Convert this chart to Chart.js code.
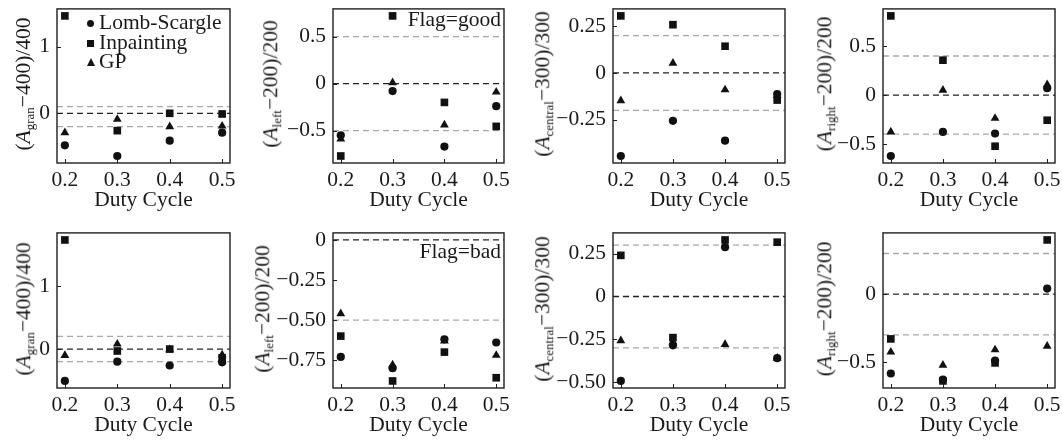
<!DOCTYPE html>
<html>
<head>
<meta charset="utf-8">
<script src="https://cdn.jsdelivr.net/npm/chart.js@4.4.1/dist/chart.umd.min.js"></script>
<style>
  html, body { margin: 0; padding: 0; background: #fff; overflow: hidden; }
  body { width: 1062px; height: 441px; position: relative; font-family: 'Liberation Serif', 'DejaVu Serif', serif; color: #1a1a1a; }
  canvas { position: absolute; }
  .ytitle { position: absolute; font-size: 21.5px; white-space: nowrap; transform: translate(-50%, -50%) rotate(-90deg); line-height: 1; }
  .ytitle sub { font-size: 13px; vertical-align: -4px; line-height: 0; }
  .ytitle i { font-style: italic; }
  .note { position: absolute; font-size: 21.5px; white-space: nowrap; line-height: 1; transform: translate(-100%, -50%); }
  .leg { position: absolute; font-size: 21.5px; white-space: nowrap; line-height: 1; transform: translateY(-50%); }
  .mk { position: absolute; background: #111; }
</style>
</head>
<body>
<script>
// ---------------- data ----------------
const dutyCycle = [0.2, 0.3, 0.4, 0.5];
const xTicks = [0.2, 0.3, 0.4, 0.5];
const xTickLabels = ['0.2', '0.3', '0.4', '0.5'];
const seriesNames = ['Lomb-Scargle', 'Inpainting', 'GP'];

// Flag = good (top row)
const granGoodLS  = [-0.48, -0.64, -0.41, -0.29];
const granGoodInp = [1.46, -0.26, 0.00, -0.01];
const granGoodGP  = [-0.29, -0.09, -0.20, -0.19];
const granGoodGray = [0.1, -0.2];
const granGoodYTicks = [0, 1];
const granGoodYLabels = ['0', '1'];

const leftGoodLS  = [-0.55, -0.08, -0.67, -0.24];
const leftGoodInp = [-0.77, 0.72, -0.20, -0.455];
const leftGoodGP  = [-0.59, 0.01, -0.44, -0.09];
const leftGoodGray = [0.5, -0.5];
const leftGoodYTicks = [-0.5, 0, 0.5];
const leftGoodYLabels = ['\u22120.5', '0', '0.5'];

const centralGoodLS  = [-0.444, -0.256, -0.362, -0.113];
const centralGoodInp = [0.305, 0.258, 0.143, -0.145];
const centralGoodGP  = [-0.148, 0.052, -0.09, -0.12];
const centralGoodGray = [0.2, -0.2];
const centralGoodYTicks = [-0.25, 0, 0.25];
const centralGoodYLabels = ['\u22120.25', '0', '0.25'];

const rightGoodLS  = [-0.623, -0.377, -0.393, 0.07];
const rightGoodInp = [0.81, 0.357, -0.523, -0.257];
const rightGoodGP  = [-0.377, 0.05, -0.237, 0.107];
const rightGoodGray = [0.4, -0.4];
const rightGoodYTicks = [-0.5, 0, 0.5];
const rightGoodYLabels = ['\u22120.5', '0', '0.5'];

// Flag = bad (bottom row)
const granBadLS  = [-0.505, -0.20, -0.26, -0.21];
const granBadInp = [1.73, -0.03, 0.00, -0.14];
const granBadGP  = [-0.10, 0.08, -0.01, -0.09];
const granBadGray = [0.2, -0.2];
const granBadYTicks = [0, 1];
const granBadYLabels = ['0', '1'];

const leftBadLS  = [-0.73, -0.80, -0.62, -0.64];
const leftBadInp = [-0.60, -0.88, -0.70, -0.86];
const leftBadGP  = [-0.46, -0.78, -0.63, -0.72];
const leftBadGray = [-0.5];
const leftBadYTicks = [-0.75, -0.5, -0.25, 0];
const leftBadYLabels = ['\u22120.75', '\u22120.50', '\u22120.25', '0'];

const centralBadLS  = [-0.493, -0.285, 0.288, -0.36];
const centralBadInp = [0.24, -0.24, 0.33, 0.317];
const centralBadGP  = [-0.258, -0.265, -0.28, -0.36];
const centralBadGray = [0.3, -0.3];
const centralBadYTicks = [-0.5, -0.25, 0, 0.25];
const centralBadYLabels = ['\u22120.50', '\u22120.25', '0', '0.25'];

const rightBadLS  = [-0.585, -0.63, -0.49, 0.041];
const rightBadInp = [-0.33, -0.64, -0.507, 0.40];
const rightBadGP  = [-0.427, -0.524, -0.41, -0.383];
const rightBadGray = [0.3, -0.3];
const rightBadYTicks = [-0.5, 0];
const rightBadYLabels = ['\u22120.5', '0'];

const zeroLine = [0];

// ---------------- layout ----------------
const colLeft = [57, 333, 613, 883];
const colWidth = [173, 171, 172, 172];
const rowTop = [5, 229];
const rowHeight = [158, 159];
const titleX = [24, 271, 543, 825];
const titleXBottom = [24, 263, 543, 825];
const YW = 60, PR = 14, XH = 52, PT = 16;
const X_MIN = 0.185, X_MAX = 0.515;
const FONT = { family: "'Liberation Serif', 'DejaVu Serif', serif", size: 21.5 };
const INK = '#111';

const panels = [
  { row: 0, col: 0, ls: granGoodLS, inp: granGoodInp, gp: granGoodGP, gray: granGoodGray, yt: granGoodYTicks, yl: granGoodYLabels, sub: 'gran', num: '400', den: '400' },
  { row: 0, col: 1, ls: leftGoodLS, inp: leftGoodInp, gp: leftGoodGP, gray: leftGoodGray, yt: leftGoodYTicks, yl: leftGoodYLabels, sub: 'left', num: '200', den: '200' },
  { row: 0, col: 2, ls: centralGoodLS, inp: centralGoodInp, gp: centralGoodGP, gray: centralGoodGray, yt: centralGoodYTicks, yl: centralGoodYLabels, sub: 'central', num: '300', den: '300' },
  { row: 0, col: 3, ls: rightGoodLS, inp: rightGoodInp, gp: rightGoodGP, gray: rightGoodGray, yt: rightGoodYTicks, yl: rightGoodYLabels, sub: 'right', num: '200', den: '200' },
  { row: 1, col: 0, ls: granBadLS, inp: granBadInp, gp: granBadGP, gray: granBadGray, yt: granBadYTicks, yl: granBadYLabels, sub: 'gran', num: '400', den: '400' },
  { row: 1, col: 1, ls: leftBadLS, inp: leftBadInp, gp: leftBadGP, gray: leftBadGray, yt: leftBadYTicks, yl: leftBadYLabels, sub: 'left', num: '200', den: '200' },
  { row: 1, col: 2, ls: centralBadLS, inp: centralBadInp, gp: centralBadGP, gray: centralBadGray, yt: centralBadYTicks, yl: centralBadYLabels, sub: 'central', num: '300', den: '300' },
  { row: 1, col: 3, ls: rightBadLS, inp: rightBadInp, gp: rightBadGP, gray: rightBadGray, yt: rightBadYTicks, yl: rightBadYLabels, sub: 'right', num: '200', den: '200' },
];

// matplotlib-like autoscale: data (and horizontal reference lines) plus 5% margin
function autoRange(vals) {
  const lo = Math.min(...vals), hi = Math.max(...vals);
  const m = (hi - lo) * 0.05;
  return [lo - m, hi + m];
}

const framePlugin = {
  id: 'frame',
  afterDatasetsDraw(chart) {
    const { ctx, chartArea: a, scales: { x, y } } = chart;
    ctx.save();
    ctx.strokeStyle = '#1e1e1e';
    ctx.lineWidth = 1.4;
    ctx.strokeRect(a.left, a.top, a.right - a.left, a.bottom - a.top);
    ctx.beginPath();
    x.ticks.forEach(t => { const px = Math.round(x.getPixelForValue(t.value)) + 0.5; ctx.moveTo(px, a.bottom); ctx.lineTo(px, a.bottom - 4); });
    y.ticks.forEach(t => { const py = Math.round(y.getPixelForValue(t.value)) + 0.5; ctx.moveTo(a.left, py); ctx.lineTo(a.left + 4, py); });
    ctx.lineWidth = 1;
    ctx.stroke();
    ctx.restore();
  }
};

function hline(v, color) {
  return {
    type: 'line', data: [{ x: X_MIN, y: v }, { x: X_MAX, y: v }],
    borderColor: color, borderWidth: 1.3, borderDash: [6, 4], pointRadius: 0, order: 5, clip: false
  };
}
function pts(arr) { return dutyCycle.map((d, i) => ({ x: d, y: arr[i] })); }

panels.forEach(p => {
  const plotL = colLeft[p.col], plotW = colWidth[p.col];
  const plotT = rowTop[p.row], plotH = rowHeight[p.row];
  const cv = document.createElement('canvas');
  const W = YW + plotW + PR, H = PT + plotH + XH;
  cv.width = W; cv.height = H;
  cv.style.left = (plotL - YW) + 'px';
  cv.style.top = (plotT - PT) + 'px';
  cv.style.width = W + 'px'; cv.style.height = H + 'px';
  document.body.appendChild(cv);

  const [yMin, yMax] = autoRange([...p.ls, ...p.inp, ...p.gp, ...zeroLine, ...p.gray]);

  const datasets = [
    { type: 'scatter', label: seriesNames[1], data: pts(p.inp), pointStyle: 'rect', pointRadius: 5.4, backgroundColor: INK, borderColor: INK, borderWidth: 0, order: 0 },
    { type: 'scatter', label: seriesNames[0], data: pts(p.ls), pointStyle: 'circle', pointRadius: 4.1, backgroundColor: INK, borderColor: INK, borderWidth: 0, order: 1 },
    { type: 'scatter', label: seriesNames[2], data: pts(p.gp), pointStyle: 'triangle', pointRadius: 5.1, backgroundColor: INK, borderColor: INK, borderWidth: 0, order: 2 },
    hline(zeroLine[0], '#222'),
    ...p.gray.map(g => hline(g, '#a8a8a8')),
  ];

  new Chart(cv, {
    data: { datasets },
    plugins: [framePlugin],
    options: {
      responsive: false, animation: false, devicePixelRatio: 1,
      layout: { padding: { left: 0, top: PT, right: PR, bottom: 0 } },
      plugins: { legend: { display: false }, tooltip: { enabled: false } },
      scales: {
        x: {
          type: 'linear', min: X_MIN, max: X_MAX,
          afterBuildTicks: s => { s.ticks = xTicks.map(v => ({ value: v })); },
          afterFit: s => { s.height = XH; },
          ticks: { callback: (v, i) => xTickLabels[i], font: FONT, color: '#1a1a1a', padding: 4, maxRotation: 0, minRotation: 0, autoSkip: false },
          grid: { display: false, drawTicks: false },
          border: { display: false },
          title: { display: true, text: 'Duty Cycle', font: FONT, color: '#1a1a1a', padding: { top: 0, bottom: 2 } }
        },
        y: {
          type: 'linear', min: yMin, max: yMax,
          afterBuildTicks: s => { s.ticks = p.yt.map(v => ({ value: v })); },
          afterFit: s => { s.width = YW; },
          ticks: { callback: (v, i) => p.yl[i], font: FONT, color: '#1a1a1a', padding: 7, autoSkip: false },
          grid: { display: false, drawTicks: false },
          border: { display: false }
        }
      }
    }
  });

  // y-axis title (real text with subscript)
  const t = document.createElement('div');
  t.className = 'ytitle';
  t.innerHTML = '(<i>A</i><sub>' + p.sub + '</sub>\u2212' + p.num + ')/' + p.den;
  t.style.left = (p.row === 0 ? titleX[p.col] : titleXBottom[p.col]) + 'px';
  t.style.top = (plotT + plotH / 2) + 'px';
  document.body.appendChild(t);
});

// Legend (top-left panel)
const legendY = [23, 43, 62];
const legendShapes = ['circle', 'square', 'triangle'];
seriesNames.forEach((name, i) => {
  const m = document.createElement('div');
  m.className = 'mk';
  const cy = legendY[i];
  if (legendShapes[i] === 'circle') {
    Object.assign(m.style, { left: '87px', top: (cy - 3.5) + 'px', width: '7px', height: '7px', borderRadius: '50%' });
  } else if (legendShapes[i] === 'square') {
    Object.assign(m.style, { left: '87px', top: (cy - 3.5) + 'px', width: '7px', height: '7px' });
  } else {
    Object.assign(m.style, { left: '86.5px', top: (cy - 4) + 'px', width: '0', height: '0', background: 'transparent',
      borderLeft: '4px solid transparent', borderRight: '4px solid transparent', borderBottom: '8px solid #111' });
  }
  document.body.appendChild(m);
  const l = document.createElement('div');
  l.className = 'leg';
  l.textContent = name;
  l.style.left = '99px';
  l.style.top = cy + 'px';
  document.body.appendChild(l);
});

// Flag annotations
const flagTexts = ['Flag=good', 'Flag=bad'];
const flagY = [20, 252];
flagTexts.forEach((txt, i) => {
  const d = document.createElement('div');
  d.className = 'note';
  d.textContent = txt;
  d.style.left = '501px';
  d.style.top = flagY[i] + 'px';
  document.body.appendChild(d);
});
</script>
</body>
</html>
